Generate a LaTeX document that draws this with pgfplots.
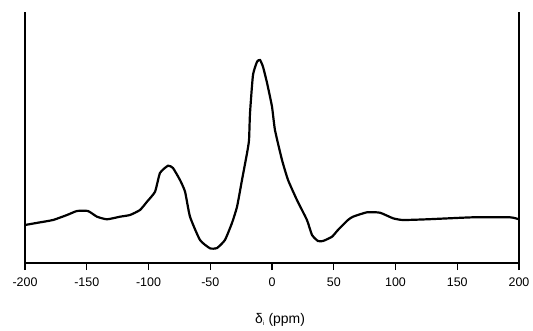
\documentclass[border=0pt]{standalone}
\usepackage{fontspec}
\setmainfont{Liberation Sans}
\usepackage{pgfplots}
\pgfplotsset{compat=1.18}
\begin{document}
\begin{tikzpicture}
\begin{axis}[
  scale only axis,
  width=494bp, height=250bp,
  xmin=-200, xmax=200, ymin=0, ymax=250,
  axis line style={draw=none},
  xtick pos=bottom,
  xtick={-200,-150,...,200},
  xticklabels={-200,-150,-100,-50,0,50,100,150,200},
  ytick=\empty,
  tick align=outside,
  major tick length=7bp,
  every tick/.style={line width=1.3bp, black},
  xticklabel style={font=\fontsize{12.5}{14}\selectfont, yshift=-4bp},
  xlabel={\fontsize{14}{16}\selectfont δ\textsubscript{\fontsize{6}{6}\selectfont i} (ppm)},
  xlabel style={at={(axis description cs:0.5,0)}, anchor=center, yshift=-57bp, xshift=8bp},
  clip=false,
]
\addplot[black, line width=2.2bp, smooth, tension=0.3] coordinates {
(-200,38) (-189.5,40.3) (-177.3,43) (-166,48) (-157.9,52) (-149,52)
(-141.7,46.3) (-133.6,43.7) (-123.1,46.3) (-115,48) (-106.9,53)
(-101.2,61.3) (-94.7,71.3) (-90.7,90) (-84.2,97.3) (-80.2,95)
(-74.5,83) (-70.4,71.3) (-66.4,46.3) (-58.3,23) (-50.2,14.7)
(-44.5,15) (-38.1,23) (-32.4,40) (-28.3,56.3) (-24.3,83)
(-20.2,110) (-18.6,123) (-17.8,150) (-15.4,188) (-12.1,201.3)
(-9.7,203) (-7.3,196.3) (-4.0,180) (0,156.3) (2.4,133)
(8.1,103) (13.0,83) (20.2,63) (28.3,43) (32.4,28) (37.2,22)
(41.3,22) (48.6,26.3) (53.4,33) (61.5,43) (65.6,46.3)
(76.9,50.7) (87.4,50.3) (98,44.7) (106,43) (125.5,43.7)
(162.8,45.7) (192.7,45.7) (200,43.7)
};
\draw[line width=1.6bp, line cap=rect] (rel axis cs:0,1) -- (rel axis cs:0,0) -- (rel axis cs:1,0) -- (rel axis cs:1,1);
\end{axis}
\pgfresetboundingbox
\path (current axis.south west) ++(-25bp,-68bp) rectangle ++(533bp,331bp);
\end{tikzpicture}
\end{document}
